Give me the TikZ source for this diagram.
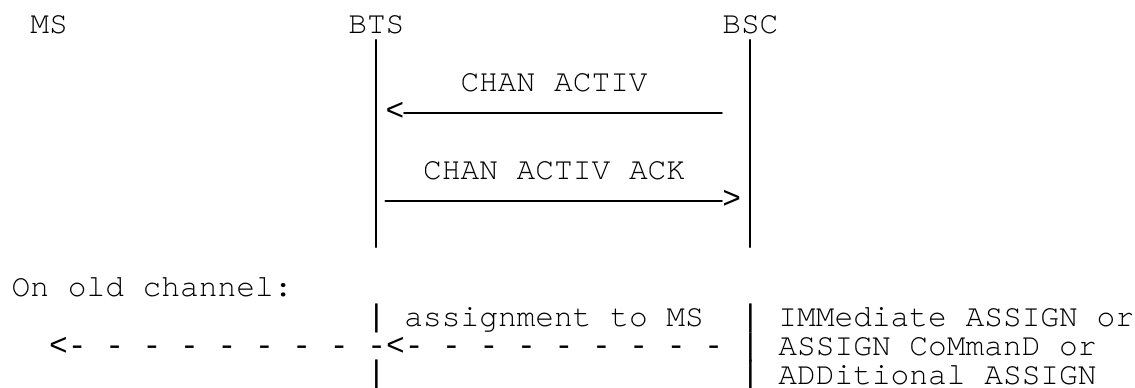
\documentclass[tikz,border=0pt]{standalone}
\usepackage{fontspec}
\usepackage{tkz-euclide}
\newfontfamily\monofont{TeX Gyre Cursor}
\newfontfamily\symfont{Liberation Mono}
\tikzset{>=stealth}
\tikzset{txt/.style={inner sep=0pt, anchor=base west, font=\monofont\fontsize{15.6pt}{18pt}\selectfont},
  sym/.style={txt, font=\symfont\fontsize{15.6pt}{18pt}\selectfont}}

\begin{document}
\begin{tikzpicture}[x=0.5pt, y=-0.5pt]
\useasboundingbox (0,0) rectangle (1135,387);
% header
\node[txt] (ms) at (30.0,33) {MS};
\node[txt] (bts) at (347.9,33) {BTS};
\node[txt] (bsc) at (721.9,33) {BSC};
\tkzDefPoints{375.95/40/BTSt, 375.95/247/BTSb, 749.95/40/BSCt, 749.95/247/BSCb}
\tkzDrawSegments[color=black, line width=1.1pt](BTSt,BTSb BSCt,BSCb)
% CHAN ACTIV
\node[txt] (act) at (460.1,91.6) {CHAN ACTIV};
\node[sym] (lt) at (385.3,120.9) {<};
\tkzDefPoints{404/113/Aa, 721.9/113/Ab}
\tkzDrawSegment[color=black, line width=1pt](Aa,Ab)
% CHAN ACTIV ACK
\node[txt] (ack) at (422.7,179.5) {CHAN ACTIV ACK};
\node[sym] (gt) at (721.9,208.8) {>};
\tkzDefPoints{385.3/200.5/Ba, 721.9/200.5/Bb}
\tkzDrawSegment[color=black, line width=1pt](Ba,Bb)
% old channel
\node[txt] (old) at (11.3,296.7) {On old channel:};
\node[sym] (b1) at (366.6,326) {|};
\node[txt] (asg) at (404.0,326) {assignment to MS};
\node[sym] (c1) at (740.6,326) {|};
\node[txt] (im) at (778.0,326) {IMMediate ASSIGN or};
\node[sym] (dash) at (48.7,355.3) {<- - - - - - - - -<- - - - - - - - -};
\node[sym] (c2) at (740.6,355.3) {|};
\node[txt] (cmd) at (778.0,355.3) {ASSIGN CoMmanD or};
\node[sym] (b3) at (366.6,382) {|};
\node[sym] (c3) at (740.6,382) {|};
\node[txt] (add) at (778.0,384) {ADDitional ASSIGN};
\end{tikzpicture}
\end{document}
